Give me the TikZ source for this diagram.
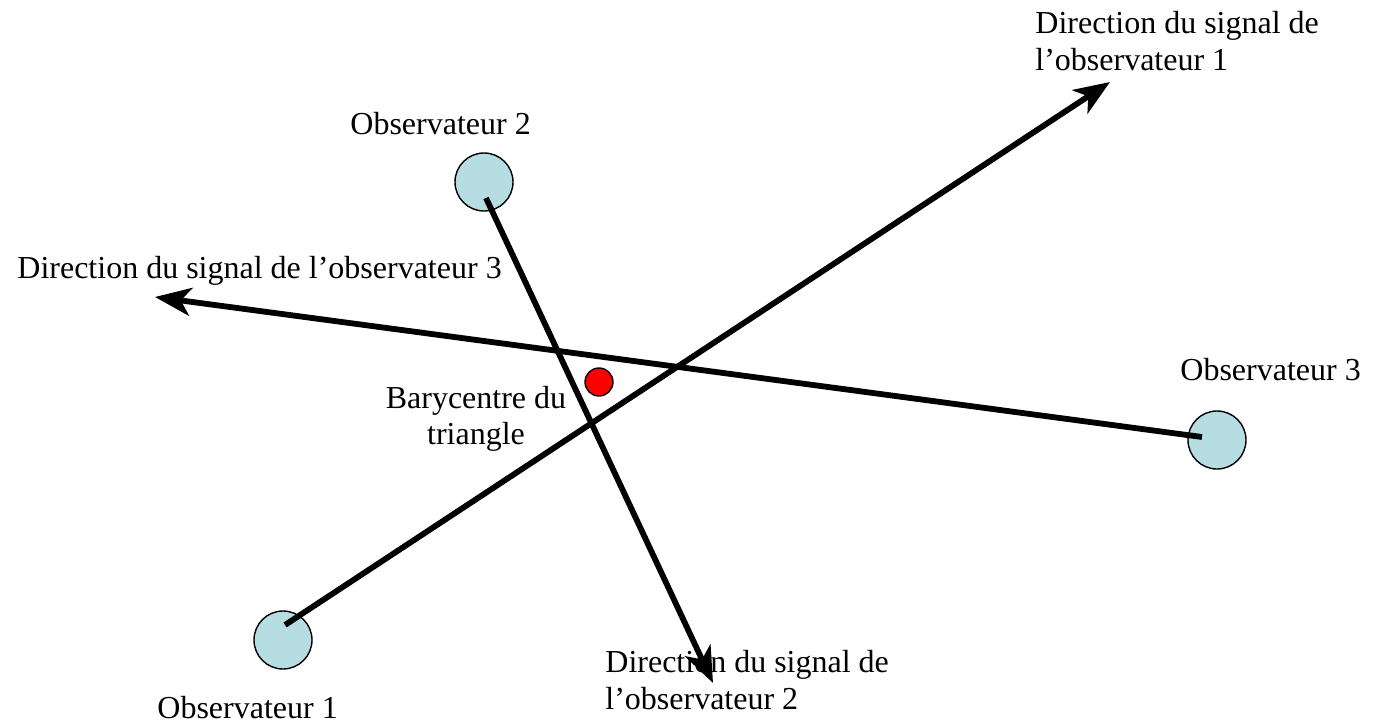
\documentclass[tikz,border=0pt]{standalone}
\usepackage{fontspec}
\setmainfont{Liberation Serif}
\usetikzlibrary{arrows.meta}
\definecolor{obsfill}{RGB}{182,221,226}
\tikzset{
  obs/.style={circle, draw=black, line width=0.7pt, fill=obsfill, minimum size=29pt, inner sep=0pt},
  bary/.style={circle, draw=black, line width=0.7pt, fill=red, minimum size=14pt, inner sep=0pt},
  sig/.style={line width=2.9pt, -{Stealth[length=18pt, width=14pt, inset=5pt]}},
  lbl/.style={anchor=north west, inner sep=0pt, align=left, font=\fontsize{16pt}{18.5pt}\selectfont},
}
\begin{document}
\begin{tikzpicture}[x=0.5pt, y=-0.5pt]
\useasboundingbox (0,0) rectangle (1388,724);
% observers
\node[obs] (obs1) at (283,640) {};
\node[obs] (obs2) at (484,182) {};
\node[obs] (obs3) at (1217,440) {};
\node[bary] (bary) at (599,382) {};
% arrow ends
\coordinate (end1) at (1110,82);
\coordinate (end2) at (713,683);
\coordinate (end3) at (155,297);
% signals
\draw[sig] ([shift={(2,-15)}]obs1.center) -- (end1);
\draw[sig] ([shift={(2,16)}]obs2.center) -- (end2);
\draw[sig] ([shift={(-15,-3)}]obs3.center) -- (end3);
% labels
\node[lbl] (t1) at (1035,11) {Direction du signal de\\l’observateur 1};
\node[lbl] (t2) at (605,650) {Direction du signal de\\l’observateur 2};
\node[lbl] (t3) at (17,256) {Direction du signal de l’observateur 3};
\node[lbl] (o1) at (157,696) {Observateur 1};
\node[lbl] (o2) at (350,112) {Observateur 2};
\node[lbl] (o3) at (1180,358) {Observateur 3};
\node[anchor=north, inner sep=0pt, align=center, font=\fontsize{16pt}{18pt}\selectfont] (bt) at (476,386) {Barycentre du\\triangle};
\end{tikzpicture}
\end{document}
